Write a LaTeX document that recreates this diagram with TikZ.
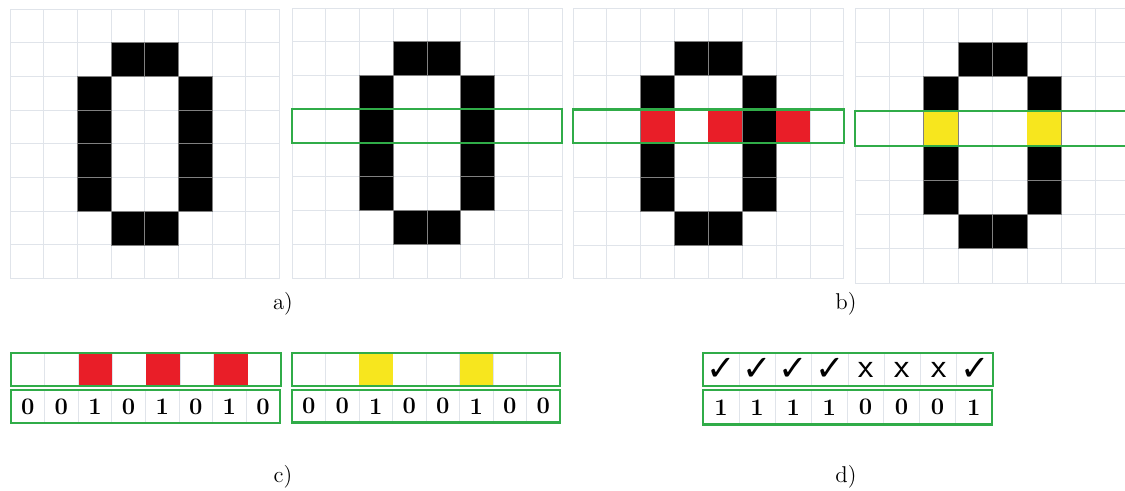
\documentclass[tikz,border=0pt]{standalone}
\usepackage{fontspec}
\newfontfamily\symfont{DejaVu Sans}
\usepackage{tikz}
\definecolor{gridgray}{RGB}{224,228,234}
\definecolor{boxgreen}{RGB}{48,172,72}
\definecolor{cellred}{RGB}{233,30,40}
\definecolor{cellyellow}{RGB}{247,230,30}
\tikzset{
  gline/.style={draw=gridgray, line width=0.5pt},
  blk/.style={fill=black, draw=gray, line width=0.4pt},
  frame/.style={draw=boxgreen, line width=1.2pt},
  bit/.style={font=\fontsize{13.5}{15}\selectfont\bfseries},
  lbl/.style={font=\fontsize{13}{15}\selectfont}
}
\newcommand{\zerogrid}{%
  \foreach \i in {0,...,8} {\draw[gline] (\i,0) -- (\i,8); \draw[gline] (0,\i) -- (8,\i);}
  \foreach \c/\r in {3/1,4/1,2/2,5/2,2/3,5/3,2/4,5/4,2/5,5/5,3/6,4/6}
    \draw[blk] (\c,\r) rectangle ++(1,1);
}
\newcommand{\stripcells}{%
  \foreach \i in {0,...,7} \draw[gline] (\i,0) rectangle ++(1,1);
}
\begin{document}
\begin{tikzpicture}[x=0.02cm, y=-0.02cm]
\clip (0,0) rectangle (1125,490);
\fill[white] (0,0) rectangle (1125,490);

\begin{scope}[shift={(10,9)}, scale=33.7]
\zerogrid
\end{scope}

\begin{scope}[shift={(292,8)}, scale=33.75]
\zerogrid
\draw[frame] (0,3) rectangle (8,4);
\end{scope}

\begin{scope}[shift={(573,8)}, scale=33.85]
\zerogrid
\foreach \c in {2,4,6} \fill[cellred] (\c,3) rectangle ++(1,1);
\draw[frame] (0,3) rectangle (8,4);
\end{scope}

\begin{scope}[shift={(855,8)}, scale=34.4]
\zerogrid
\foreach \c in {2,5} \fill[cellyellow] (\c,3) rectangle ++(1,1);
\draw[frame] (0,3) rectangle (8.5,4);
\end{scope}

\begin{scope}[shift={(11,353)}, xscale=33.8, yscale=33]
\stripcells
\foreach \c in {2,4,6} \fill[cellred] (\c,0) rectangle ++(1,1);
\draw[frame] (0,0) rectangle (8,1);
\end{scope}
\begin{scope}[shift={(11,390)}, xscale=33.6, yscale=33]
\stripcells
\foreach \v [count=\i from 0] in {0,0,1,0,1,0,1,0}
  \node[bit] (ca\i) at (\i+0.5,0.5) {\v};
\draw[frame] (0,0) rectangle (8,1);
\end{scope}

\begin{scope}[shift={(292,353)}, xscale=33.5, yscale=33]
\stripcells
\foreach \c in {2,5} \fill[cellyellow] (\c,0) rectangle ++(1,1);
\draw[frame] (0,0) rectangle (8,1);
\end{scope}
\begin{scope}[shift={(292,390)}, xscale=33.5, yscale=32.5]
\stripcells
\foreach \v [count=\i from 0] in {0,0,1,0,0,1,0,0}
  \node[bit] (cb\i) at (\i+0.5,0.5) {\v};
\draw[frame] (0,0) rectangle (8,1);
\end{scope}

\begin{scope}[shift={(703,353)}, xscale=36.25, yscale=33]
\stripcells
\foreach \v [count=\i from 0] in {\symfont\bfseries ✓,\symfont\bfseries ✓,\symfont\bfseries ✓,\symfont\bfseries ✓,\sffamily x,\sffamily x,\sffamily x,\symfont\bfseries ✓}
  \node[font=\fontsize{20}{21}\selectfont] (chk\i) at (\i+0.5,0.5) {\v};
\draw[frame] (0,0) rectangle (8,1);
\end{scope}
\begin{scope}[shift={(703,390)}, xscale=36.1, yscale=34.5]
\stripcells
\foreach \v [count=\i from 0] in {1,1,1,1,0,0,0,1}
  \node[bit] (db\i) at (\i+0.5,0.5) {\v};
\draw[frame] (0,0) rectangle (8,1);
\end{scope}

\node[lbl] (la) at (283,304) {a)};
\node[lbl] (lb) at (846,304) {b)};
\node[lbl] (lc) at (283,477) {c)};
\node[lbl] (ld) at (846,477) {d)};
\end{tikzpicture}
\end{document}
